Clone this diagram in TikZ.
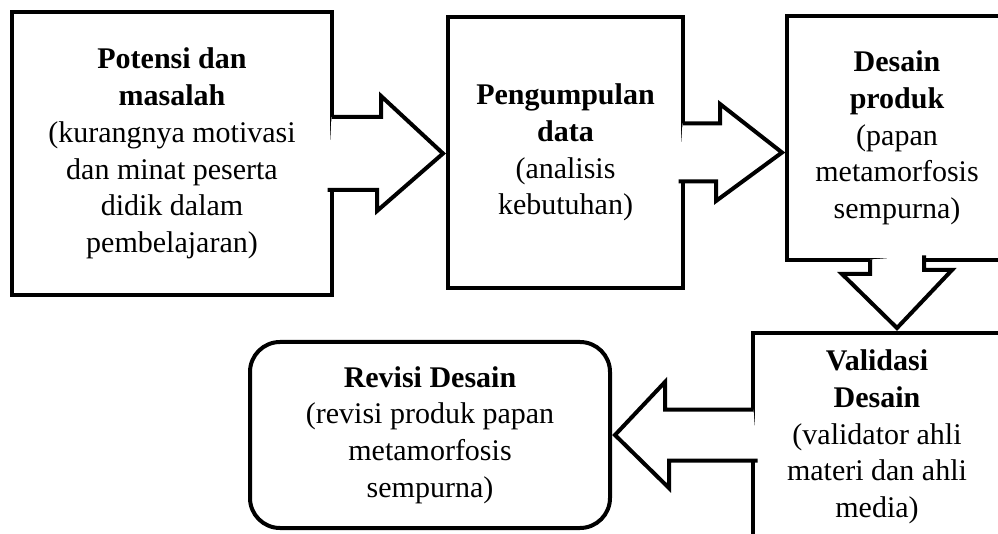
\documentclass[tikz,border=0pt]{standalone}
\usepackage{fontspec}
\setmainfont{Liberation Serif}
\usepackage{tikz}

\begin{document}
\begin{tikzpicture}[x=1pt,y=1pt,
    box/.style={draw,line width=4pt,fill=white,align=center,inner sep=0pt,
      font=\fontsize{30}{36.7}\selectfont},
    blockarrow/.style={draw,fill=white,line width=4pt,line join=miter}]
    \useasboundingbox (0,0) rectangle (998,533);
    \clip (0,0) rectangle (998,533);
    %steps
    \node [box,minimum width=320,minimum height=283] (potensi) at (172,379.5)
      {\textbf{Potensi dan}\\\textbf{masalah}\\(kurangnya motivasi\\dan minat peserta\\didik dalam\\pembelajaran)};
    \node [box,minimum width=235,minimum height=271] (data) at (565.5,380.5)
      {\textbf{Pengumpulan}\\\textbf{data}\\(analisis\\kebutuhan)};
    \node [box,minimum width=220,minimum height=244] (produk) at (897,395)
      {\textbf{Desain}\\\textbf{produk}\\(papan\\metamorfosis\\sempurna)};
    \node [box,minimum width=248,minimum height=208] (validasi) at (877,96)
      {\textbf{Validasi}\\\textbf{Desain}\\(validator ahli\\materi dan ahli\\media)};
    \node [box,rounded corners=30,minimum width=360,minimum height=186] (revisi) at (430,98)
      {\textbf{Revisi Desain}\\(revisi produk papan\\metamorfosis\\sempurna)};
    %block arrows
    \path (data.west |- potensi.east) ++(-3,0) coordinate (t1);
    \path (produk.west |- data.east) ++(-3,0) coordinate (t2);
    \path (produk.south |- validasi.north) ++(0,3) coordinate (t3);
    \path (revisi.east) ++(3,0) coordinate (t4);
    \path (validasi.west |- revisi.east) coordinate (s4);
    \filldraw [blockarrow] ([shift={(-2.5,36.5)}]potensi.east) -- ++(49.5,0) -- ++(0,21) -- (t1)
      -- ++(-66,-57.5) -- ++(0,21) -- ++(-49.5,0);
    \filldraw [blockarrow] ([shift={(-2.5,29)}]data.east) -- ++(37.5,0) -- ++(0,19.5) -- (t2)
      -- ++(-66,-48.5) -- ++(0,19.5) -- ++(-37.5,0);
    \filldraw [blockarrow] ([shift={(-27,2.5)}]produk.south) -- ++(0,-14.5) -- ++(-28,0) -- (t3)
      -- ++(55,58) -- ++(-28,0) -- ++(0,14.5);
    \filldraw [blockarrow] ([shift={(2.5,25.5)}]s4) -- ++(-88.5,0) -- ++(0,27.5) -- (t4)
      -- ++(54,-53) -- ++(0,27.5) -- ++(88.5,0);
\end{tikzpicture}
\end{document}
